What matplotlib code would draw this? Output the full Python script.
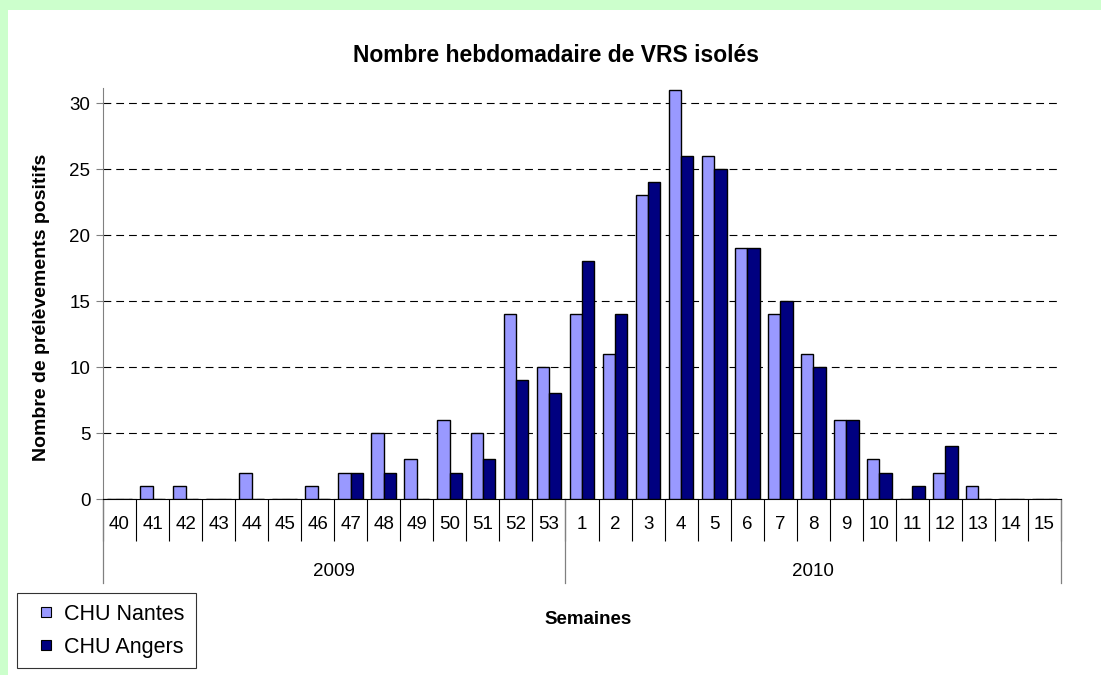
import matplotlib
matplotlib.use('Agg')
import matplotlib.pyplot as plt
import matplotlib.transforms as mtrans
from matplotlib.patches import Rectangle
from matplotlib.lines import Line2D
import numpy as np

plt.rcParams['font.family'] = ['Liberation Sans', 'DejaVu Sans']

weeks = ['40', '41', '42', '43', '44', '45', '46', '47', '48', '49', '50', '51', '52', '53',
         '1', '2', '3', '4', '5', '6', '7', '8', '9', '10', '11', '12', '13', '14', '15']
years = ['2009', '2010']
year_sizes = [14, 15]
nantes = [0, 1, 1, 0, 2, 0, 1, 2, 5, 3, 6, 5, 14, 10,
          14, 11, 23, 31, 26, 19, 14, 11, 6, 3, 0, 2, 1, 0, 0]
angers = [0, 0, 0, 0, 0, 0, 0, 2, 2, 0, 2, 3, 9, 8,
          18, 14, 24, 26, 25, 19, 15, 10, 6, 2, 1, 4, 0, 0, 0]
c_nantes, c_angers = '#9999FF', '#000080'

W, H = 1101, 675
fig = plt.figure(figsize=(W / 100, H / 100), dpi=100)
fig.patch.set_facecolor('#CCFFCC')
fig.patches.append(Rectangle((8 / W, 0), 1, 1 - 10 / H, transform=fig.transFigure,
                             facecolor='white', edgecolor='none', zorder=-5))

ymax = 31.1
ax_h = 396 / 30 * ymax
ax = fig.add_axes([103 / W, 1 - 499 / H, (1061 - 103) / W, ax_h / H])
ax.set_facecolor('none')

x = np.arange(len(weeks))
bw = 0.375
ax.bar(x - bw / 2, nantes, bw, color=c_nantes, edgecolor='black', linewidth=1, zorder=3)
ax.bar(x + bw / 2, angers, bw, color=c_angers, edgecolor='black', linewidth=1, zorder=3)

ax.set_xlim(-0.5, len(weeks) - 0.5)
ax.set_ylim(0, ymax)
ax.set_yticks(range(0, 31, 5))
ax.yaxis.grid(True, color='black', linestyle=(0, (7, 4.5)), linewidth=0.8)
ax.set_axisbelow(True)
for s in ['top', 'right']:
    ax.spines[s].set_visible(False)
ax.spines['left'].set_color('#808080')
ax.spines['bottom'].set_color('black')
ax.tick_params(axis='y', direction='out', length=5, color='#808080', labelsize=13.5, pad=4)

ax.set_xticks(x)
ax.set_xticklabels(weeks)
ax.tick_params(axis='x', which='major', length=0, labelsize=13.5, pad=12)
ax.set_xticks(np.arange(-0.5, len(weeks)), minor=True)
ax.tick_params(axis='x', which='minor', direction='out', length=30, width=0.8, color='black')

# year brackets
tr = mtrans.blended_transform_factory(ax.transData, ax.transAxes)
yb = -84 / ax_h
start = -0.5
for yr, n in zip(years, year_sizes):
    ax.add_line(Line2D([start, start], [0, yb], transform=tr, color='#808080', linewidth=0.9, clip_on=False))
    ax.text(start + n / 2, -72 / ax_h, yr, transform=tr, ha='center', va='center', fontsize=13.5)
    start += n
ax.add_line(Line2D([start, start], [0, yb], transform=tr, color='#808080', linewidth=0.9, clip_on=False))

fig.text(556 / W, 1 - 55 / H, 'Nombre hebdomadaire de VRS isolés', ha='center', va='center',
         fontsize=16.5, fontweight='bold')
fig.text(588 / W, 1 - 619 / H, 'Semaines', ha='center', va='center', fontsize=13.5, fontweight='bold')
fig.text(42 / W, 1 - 307 / H, 'Nombre de prélèvements positifs', ha='center', va='center',
         rotation=90, fontsize=14, fontweight='bold')

handles = [Line2D([], [], linestyle='none', marker='s', markersize=7.5, markerfacecolor=c,
                  markeredgecolor='black', markeredgewidth=0.8) for c in (c_nantes, c_angers)]
leg = fig.legend(handles, ['CHU Nantes', 'CHU Angers'], loc='upper left',
                 bbox_to_anchor=(17 / W, 1 - 593 / H), fontsize=15.5,
                 frameon=True, fancybox=False, edgecolor='black', borderaxespad=0,
                 handlelength=1.7, handletextpad=0.0, labelspacing=0.55,
                 borderpad=0.5)
leg.get_frame().set_linewidth(0.8)

plt.savefig('out.png', dpi=100)
